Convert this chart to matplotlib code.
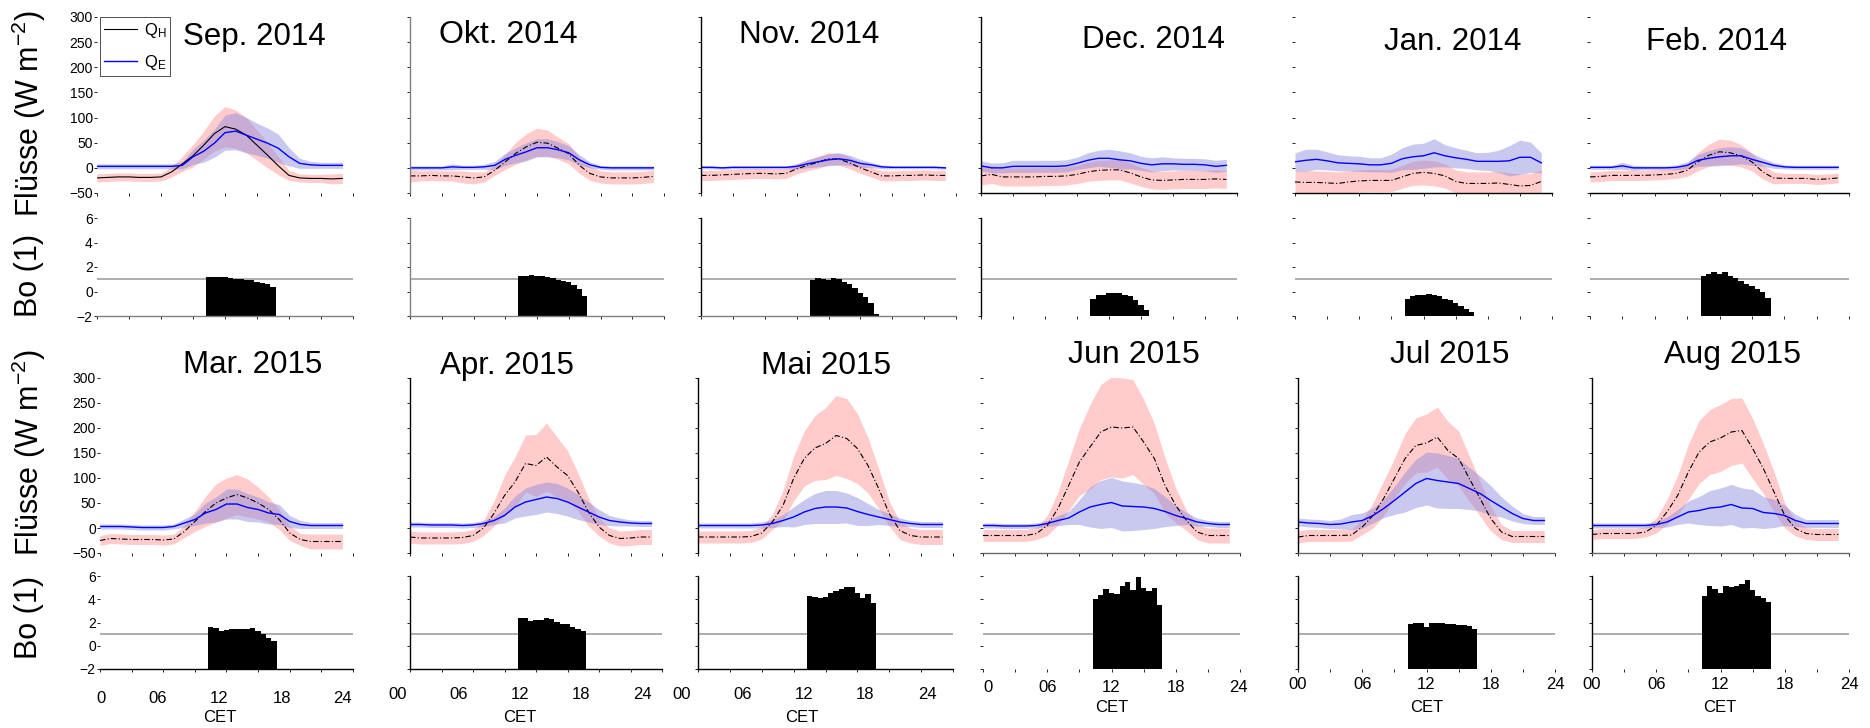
import numpy as np
import matplotlib.pyplot as plt
from matplotlib.transforms import ScaledTranslation

plt.rcParams['font.family'] = ['Liberation Sans', 'DejaVu Sans']
plt.rcParams['mathtext.default'] = 'regular'

# hours of the day (CET) and half-hour bins of the Bowen ratio
hours = np.arange(24)
bo_hours = np.arange(10.5, 17.0, 0.5)

# ---- data: mean and half band width, W m-2 ----
qh_sep = [-20, -19, -18, -18, -19, -19, -18, -8, 8, 24, 45, 68, 82, 77, 65, 45, 25, 4, -15, -20, -21, -21, -22, -21]
qh_sep_sd = [8, 8, 8, 8, 8, 8, 8, 10, 15, 22, 28, 35, 40, 38, 35, 30, 25, 18, 10, 8, 8, 8, 10, 10]
qe_sep = [3, 3, 3, 3, 3, 3, 3, 3, 5, 22, 33, 49, 70, 73, 65, 57, 49, 39, 22, 9, 6, 5, 5, 5]
qe_sep_sd = [5, 5, 5, 5, 5, 5, 5, 5, 7, 15, 22, 28, 35, 37, 35, 32, 30, 28, 18, 10, 7, 6, 6, 6]
bo_sep = [1.2, 1.2, 1.15, 1.15, 1.1, 1.05, 1.0, 0.95, 0.9, 0.8, 0.7, 0.6, 0.4]

qh_okt = [-16, -16, -15, -16, -16, -18, -20, -18, -5, 12, 29, 42, 51, 49, 39, 28, 5, -11, -18, -20, -20, -20, -19, -17]
qh_okt_sd = [12, 10, 10, 10, 10, 12, 12, 10, 10, 15, 22, 26, 28, 26, 22, 20, 16, 14, 12, 12, 12, 12, 12, 12]
qe_okt = [0, 0, 0, 0, 2, 1, 1, 2, 5, 17, 25, 32, 40, 40, 36, 30, 16, 6, 1, 0, 0, 0, 0, 0]
qe_okt_sd = [4, 4, 4, 4, 6, 4, 4, 5, 8, 12, 15, 18, 18, 18, 16, 14, 10, 6, 4, 4, 4, 4, 4, 4]
bo_okt = [1.27, 1.3, 1.34, 1.3, 1.27, 1.15, 1.13, 0.95, 0.85, 0.75, 0.5, 0.2, -0.35]

qh_nov = [-15, -15, -14, -13, -12, -11, -11, -12, -11, -2, 5, 11, 18, 17, 10, 0, -8, -16, -16, -15, -15, -14, -15, -15]
qh_nov_sd = [10, 10, 10, 10, 10, 10, 10, 10, 10, 10, 11, 12, 12, 12, 12, 11, 10, 10, 10, 10, 10, 10, 10, 10]
qe_nov = [1, 1, 0, 1, 1, 1, 1, 1, 1, 3, 8, 12, 16, 18, 15, 9, 6, 2, 1, 1, 1, 1, 1, 0]
qe_nov_sd = [3, 3, 3, 3, 3, 3, 3, 3, 3, 5, 8, 10, 12, 12, 10, 8, 5, 4, 3, 3, 3, 3, 3, 3]
bo_nov = [0.95, 1.08, 1.05, 0.95, 1.08, 1.0, 0.8, 0.6, 0.3, -0.15, -0.45, -0.95, -1.85]

qh_dec = [-16, -13, -18, -18, -18, -18, -17, -17, -16, -13, -8, -5, -4, -4, -10, -18, -24, -25, -24, -23, -23, -23, -22, -23]
qh_dec_sd = [18, 18, 18, 18, 18, 18, 18, 18, 18, 18, 19, 20, 20, 20, 20, 19, 18, 18, 18, 18, 18, 18, 18, 18]
qe_dec = [4, 0, 0, 3, 3, 3, 3, 3, 4, 9, 15, 19, 19, 16, 14, 9, 6, 8, 8, 7, 7, 6, 3, 5]
qe_dec_sd = [10, 10, 10, 12, 12, 12, 12, 12, 12, 12, 15, 16, 18, 18, 16, 14, 14, 14, 12, 12, 12, 12, 12, 12]
bo_dec = [-0.6, -0.3, -0.25, -0.15, -0.1, -0.1, -0.3, -0.35, -0.7, -1.1, -1.5, np.nan, np.nan]

qh_jan = [-28, -29, -29, -30, -31, -28, -26, -25, -25, -25, -18, -11, -9, -11, -16, -27, -31, -31, -31, -30, -33, -36, -35, -27]
qh_jan_sd = [23, 23, 23, 23, 23, 22, 22, 22, 22, 22, 23, 24, 25, 25, 24, 23, 23, 23, 23, 23, 23, 24, 24, 23]
qe_jan = [12, 15, 17, 14, 10, 9, 8, 6, 6, 9, 18, 22, 24, 30, 24, 20, 17, 13, 13, 13, 14, 21, 21, 10]
qe_jan_sd = [18, 22, 20, 18, 16, 15, 15, 14, 14, 18, 22, 25, 25, 28, 22, 20, 18, 17, 18, 22, 30, 34, 30, 20]
bo_jan = [-0.6, -0.4, -0.3, -0.28, -0.2, -0.25, -0.4, -0.6, -0.72, -0.95, -1.2, -1.4, -1.65]

qh_feb = [-18, -17, -15, -15, -15, -15, -14, -13, -11, -5, 12, 25, 32, 30, 24, 12, -8, -20, -21, -21, -21, -23, -22, -20]
qh_feb_sd = [10, 10, 10, 10, 10, 10, 10, 10, 10, 12, 18, 22, 25, 25, 22, 18, 14, 12, 10, 10, 10, 10, 10, 10]
qe_feb = [1, 1, 1, 4, 0, 0, 0, 0, 1, 5, 15, 19, 22, 24, 24, 17, 11, 5, 2, 1, 1, 1, 1, 1]
qe_feb_sd = [4, 4, 4, 7, 5, 4, 4, 4, 5, 7, 12, 15, 18, 18, 16, 12, 8, 6, 4, 4, 4, 4, 4, 4]
bo_feb = [1.27, 1.45, 1.6, 1.4, 1.58, 1.27, 1.13, 0.87, 0.65, 0.47, 0.2, -0.05, -0.55]

qh_mar = [-25, -21, -22, -23, -23, -23, -24, -22, -7, 13, 33, 50, 60, 67, 60, 50, 37, 17, -10, -23, -27, -27, -27, -27]
qh_mar_sd = [10, 10, 10, 10, 10, 10, 10, 10, 12, 20, 30, 38, 40, 40, 38, 32, 25, 20, 15, 12, 15, 15, 15, 15]
qe_mar = [3, 3, 3, 2, 1, 1, 1, 3, 10, 17, 30, 37, 48, 48, 41, 37, 30, 27, 13, 7, 5, 5, 5, 5]
qe_mar_sd = [5, 5, 5, 5, 5, 5, 5, 5, 8, 12, 20, 25, 30, 30, 28, 25, 22, 20, 12, 8, 6, 6, 6, 6]
bo_mar = [1.65, 1.55, 1.3, 1.35, 1.42, 1.45, 1.4, 1.4, 1.5, 1.3, 1.0, 0.65, 0.45]

qh_apr = [-18, -20, -20, -20, -20, -19, -15, 0, 29, 65, 92, 129, 125, 142, 122, 105, 72, 32, 2, -15, -21, -20, -18, -18]
qh_apr_sd = [12, 12, 12, 12, 12, 12, 12, 15, 25, 40, 50, 57, 62, 68, 60, 50, 38, 28, 18, 15, 15, 15, 15, 15]
qe_apr = [7, 7, 6, 6, 6, 5, 6, 9, 15, 25, 42, 52, 57, 62, 59, 52, 42, 32, 22, 15, 12, 10, 9, 9]
qe_apr_sd = [5, 5, 5, 5, 5, 5, 5, 6, 8, 15, 22, 28, 30, 30, 30, 28, 25, 20, 15, 10, 8, 6, 6, 6]
bo_apr = [2.4, 2.35, 2.15, 2.2, 2.2, 2.43, 2.26, 2.06, 1.87, 1.85, 1.65, 1.48, 1.28]

qh_mai = [-18, -18, -18, -18, -18, -17, -10, 12, 45, 99, 139, 160, 169, 185, 179, 159, 125, 79, 29, -5, -15, -18, -18, -18]
qh_mai_sd = [12, 12, 12, 12, 12, 12, 12, 15, 30, 45, 55, 65, 72, 80, 80, 70, 55, 40, 25, 18, 15, 15, 15, 15]
qe_mai = [5, 5, 5, 5, 5, 5, 6, 9, 15, 22, 32, 39, 42, 42, 40, 33, 27, 22, 17, 12, 9, 7, 7, 7]
qe_mai_sd = [5, 5, 5, 5, 5, 5, 6, 8, 12, 20, 25, 30, 33, 33, 30, 28, 22, 15, 12, 8, 6, 6, 6, 6]
bo_mai = [4.3, 4.2, 4.15, 4.2, 4.5, 4.7, 4.85, 5.05, 5.05, 4.5, 4.15, 4.45, 3.65]

qh_jun = [-15, -15, -15, -15, -15, -11, 5, 39, 85, 132, 162, 192, 202, 200, 202, 172, 139, 85, 45, 15, -8, -15, -15, -15]
qh_jun_sd = [12, 12, 12, 12, 12, 12, 20, 33, 50, 67, 85, 95, 100, 100, 95, 85, 70, 55, 35, 20, 15, 15, 15, 15]
qe_jun = [5, 5, 4, 4, 4, 5, 9, 15, 20, 32, 42, 47, 51, 44, 43, 42, 39, 33, 25, 19, 12, 9, 7, 7]
qe_jun_sd = [5, 5, 5, 5, 5, 5, 6, 10, 13, 25, 40, 48, 50, 50, 48, 45, 40, 30, 20, 12, 8, 6, 6, 6]
bo_jun = [4.0, 4.35, 4.85, 4.55, 4.45, 5.15, 5.45, 4.8, 5.9, 5.0, 4.75, 5.0, 3.5]

qh_jul = [-18, -15, -15, -15, -15, -14, 2, 25, 59, 99, 139, 165, 170, 182, 155, 139, 99, 59, 19, -8, -17, -17, -17, -17]
qh_jul_sd = [12, 12, 12, 12, 12, 12, 15, 25, 35, 40, 50, 55, 58, 60, 58, 55, 45, 35, 25, 15, 12, 12, 12, 12]
qe_jul = [12, 10, 9, 7, 8, 12, 15, 25, 39, 55, 72, 89, 99, 95, 92, 89, 79, 69, 55, 42, 29, 19, 15, 15]
qe_jul_sd = [8, 8, 8, 8, 10, 15, 15, 15, 18, 28, 40, 48, 53, 55, 53, 50, 42, 35, 30, 20, 15, 10, 8, 8]
bo_jul = [1.85, 1.95, 2.0, 1.65, 1.95, 2.0, 2.0, 1.85, 1.85, 1.8, 1.78, 1.7, 1.4]

qh_aug = [-13, -11, -11, -11, -11, -8, 5, 32, 65, 112, 152, 172, 180, 192, 195, 159, 119, 72, 25, -1, -11, -13, -13, -13]
qh_aug_sd = [10, 10, 10, 10, 10, 10, 15, 25, 40, 55, 63, 65, 67, 67, 65, 60, 50, 40, 25, 15, 12, 12, 12, 12]
qe_aug = [5, 5, 5, 5, 5, 5, 7, 12, 22, 32, 35, 40, 42, 47, 40, 39, 31, 29, 25, 15, 9, 9, 9, 9]
qe_aug_sd = [5, 5, 5, 5, 5, 5, 6, 10, 15, 22, 28, 35, 38, 40, 40, 38, 32, 28, 20, 12, 8, 8, 8, 8]
bo_aug = [4.3, 5.1, 4.85, 4.55, 5.1, 5.05, 5.15, 5.3, 5.65, 4.8, 4.25, 4.15, 3.8]

titles = ['Sep. 2014', 'Okt. 2014', 'Nov. 2014', 'Dec. 2014', 'Jan. 2014', 'Feb. 2014',
          'Mar. 2015', 'Apr. 2015', 'Mai 2015', 'Jun 2015', 'Jul 2015', 'Aug 2015']
qh_all = [qh_sep, qh_okt, qh_nov, qh_dec, qh_jan, qh_feb, qh_mar, qh_apr, qh_mai, qh_jun, qh_jul, qh_aug]
qh_sd_all = [qh_sep_sd, qh_okt_sd, qh_nov_sd, qh_dec_sd, qh_jan_sd, qh_feb_sd,
             qh_mar_sd, qh_apr_sd, qh_mai_sd, qh_jun_sd, qh_jul_sd, qh_aug_sd]
qe_all = [qe_sep, qe_okt, qe_nov, qe_dec, qe_jan, qe_feb, qe_mar, qe_apr, qe_mai, qe_jun, qe_jul, qe_aug]
qe_sd_all = [qe_sep_sd, qe_okt_sd, qe_nov_sd, qe_dec_sd, qe_jan_sd, qe_feb_sd,
             qe_mar_sd, qe_apr_sd, qe_mai_sd, qe_jun_sd, qe_jul_sd, qe_aug_sd]
bo_all = [bo_sep, bo_okt, bo_nov, bo_dec, bo_jan, bo_feb, bo_mar, bo_apr, bo_mai, bo_jun, bo_jul, bo_aug]
xtick_labels = [['0', '06', '12', '18', '24'], ['00', '06', '12', '18', '24'], ['00', '06', '12', '18', '24'],
                ['0', '06', '12', '18', '24'], ['00', '06', '12', '18', '24'], ['00', '06', '12', '18', '24']]

# ---- layout (pixel coordinates of the original composite) ----
W, H = 1870, 728
col_x = [(97, 353), (410, 664), (701, 956), (981, 1237), (1295, 1552), (1590, 1849),
         (100, 353), (410, 662), (698, 953), (983, 1240), (1298, 1555), (1592, 1849)]
flux_y = [(17, 193), (378, 553)]
bo_y = [(218, 316), (576, 669)]
title_pos = [(254, 37), (508, 35), (809, 35), (1153, 40), (1453, 42), (1716, 42),
             (253, 365), (507, 366), (826, 366), (1134, 355), (1450, 355), (1732, 355)]
title_size = [22.5, 23, 22.5, 22.5, 22.5, 22.5, 22.5, 22.5, 22.8, 23, 22.8, 23]
left_spine = [None, 'gray', 'k', 'k', None, None, None, 'k', 'k', None, 'k', 'k']
flux_bottom = [None, None, None, 'k', 'k', 'k', None, None, None, 'dimgray', 'dimgray', 'dimgray']
bo_bottom = ['gray', 'gray', 'gray', None, None, None, 'k', 'k', 'k', None, None, None]
xlabel_pad = [14, 11, 11, 6, 4, 4]
# horizontal shift (px) of each hour label against its tick
xlabel_shift = [[1, -6, -7, -8, -11], [-12, -14, -16, -18, -20], [-16, -19, -21, -24, -26],
                [5, 0, 0, 0, -2], [0, 0, 0, 0, 0], [0, 0, 0, 0, 0]]
cet_pos = [(220, 717), (520, 718), (802, 718), (1112, 707), (1427, 707), (1720, 707)]


def px_rect(x0, x1, ytop, ybot):
    return [x0 / W, 1 - ybot / H, (x1 - x0) / W, (ybot - ytop) / H]


def style_axis(ax, left, bottom):
    ax.spines['top'].set_visible(False)
    ax.spines['right'].set_visible(False)
    for side, color in (('left', left), ('bottom', bottom)):
        if color is None:
            ax.spines[side].set_visible(False)
        else:
            ax.spines[side].set_color(color)
            ax.spines[side].set_linewidth(1.0)
    ax.tick_params(direction='out', length=2, width=0.6, labelsize=10, pad=1)
    ax.set_xlim(0, 24)
    ax.set_xticks(np.arange(0, 25, 3))
    ax.set_xticklabels([])


fig = plt.figure(figsize=(W / 100, H / 100), dpi=100)

for i in range(12):
    row, col = divmod(i, 6)
    x0, x1 = col_x[i]

    # fluxes
    ax = fig.add_axes(px_rect(x0, x1, *flux_y[row]))
    qh = np.array(qh_all[i], dtype=float)
    qh_sd = np.array(qh_sd_all[i], dtype=float)
    qe = np.array(qe_all[i], dtype=float)
    qe_sd = np.array(qe_sd_all[i], dtype=float)
    ax.fill_between(hours, qh - qh_sd, qh + qh_sd, color='#ff9999', alpha=0.5, lw=0)
    ax.fill_between(hours, qe - qe_sd, qe + qe_sd, color='#8888dd', alpha=0.45, lw=0)
    ls = '-' if i == 0 else (0, (5, 2, 1, 2))
    ax.plot(hours, qh, color='k', lw=0.8, ls=ls, label=r'Q$_H$')
    ax.plot(hours, qe, color='#0000ff', lw=1.0, label=r'Q$_E$')
    ax.set_ylim(-50, 300)
    ax.set_yticks(np.arange(-50, 301, 50))
    style_axis(ax, left_spine[i], flux_bottom[i])
    if col != 0:
        ax.set_yticklabels([])
    if i == 0:
        leg = ax.legend(loc='upper left', bbox_to_anchor=(0.01, 1.0), fontsize=12,
                        frameon=True, fancybox=False, borderaxespad=0, handlelength=2.0,
                        borderpad=0.25, labelspacing=0.75, handletextpad=0.4)
        leg.get_frame().set_edgecolor('k')
        leg.get_frame().set_linewidth(0.6)
    fig.text(title_pos[i][0] / W, 1 - title_pos[i][1] / H, titles[i],
             fontsize=title_size[i], ha='center', va='center')

    # Bowen ratio
    bx = fig.add_axes(px_rect(x0, x1, *bo_y[row]))
    bo = np.array(bo_all[i], dtype=float)
    ok = np.isfinite(bo)
    bx.axhline(1, color='#a0a0a0', lw=1.2, zorder=1)
    bx.bar(bo_hours[ok], bo[ok] + 2, bottom=-2, width=0.5, color='k', lw=0, zorder=2)
    bx.set_ylim(-2, 6)
    bx.set_yticks([-2, 0, 2, 4, 6])
    style_axis(bx, left_spine[i], bo_bottom[i])
    if col != 0:
        bx.set_yticklabels([])
    if row == 1:
        bx.set_xticks([0, 6, 12, 18, 24])
        bx.set_xticks([3, 9, 15, 21], minor=True)
        bx.tick_params(which='minor', direction='out', length=2, width=0.6)
        bx.set_xticklabels(xtick_labels[col], fontsize=12)
        bx.tick_params(axis='x', pad=xlabel_pad[col])
        for lab, dx in zip(bx.get_xticklabels(), xlabel_shift[col]):
            lab.set_transform(lab.get_transform() + ScaledTranslation(dx / 100, 0, fig.dpi_scale_trans))
        fig.text(cet_pos[col][0] / W, 1 - cet_pos[col][1] / H, 'CET',
                 fontsize=12, ha='center', va='center')

for yc, txt in ((114, r'Flüsse (W m$^{-2}$)'), (275, 'Bo (1)'),
                (453, r'Flüsse (W m$^{-2}$)'), (617, 'Bo (1)')):
    fig.text(29 / W, 1 - yc / H, txt, fontsize=22, rotation=90, ha='center', va='center')

fig.savefig('out.png', dpi=100)
